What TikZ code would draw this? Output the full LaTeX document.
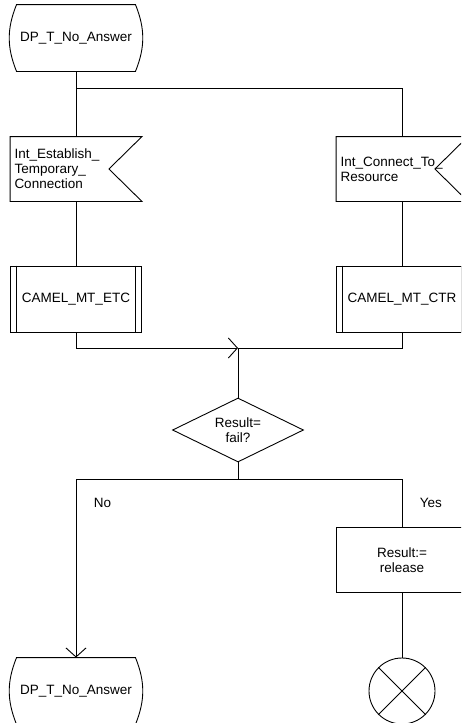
\documentclass[tikz,border=0pt]{standalone}
\usepackage{fontspec}
\setmainfont{Liberation Sans}
\usepackage{tikz}
\usetikzlibrary{shapes.geometric,arrows.meta,calc}

\begin{document}
\begin{tikzpicture}[x=1pt, y=1pt, line width=0.9pt,
    every node/.style={font=\fontsize{13.5}{15}\selectfont},
    term/.style={rectangle, minimum width=131pt, minimum height=66pt, inner sep=2pt},
    signal/.style={rectangle, minimum width=131pt, minimum height=64pt, inner sep=4pt, text width=123pt, align=left},
    proc/.style={rectangle, draw, minimum width=131pt, minimum height=66pt, inner sep=4pt, align=center},
    task/.style={rectangle, draw, minimum width=131pt, minimum height=65pt, inner sep=4pt, align=center},
    decision/.style={diamond, draw, minimum width=131pt, minimum height=64pt, inner sep=0pt, aspect=2, align=center},
    stopsym/.style={circle, draw, minimum size=66pt, inner sep=0pt},
    arr/.style={-{Straight Barb[length=9pt, width=20pt]}}]

    % Canvas
    \fill[white] (0,0) rectangle (461,-723);
    \clip (0,0) rectangle (461,-723);

    % Start
    \node[term] (dpTop) at (76,-38) {DP\_T\_No\_Answer};

    % Signals
    \node[signal] (estab) at (76,-169) {Int\_Establish\_\\Temporary\_\\Connection};
    \node[signal] (connect) at (402,-169) {Int\_Connect\_To\_\\Resource};

    % Procedures
    \node[proc] (etc) at (76,-299) {CAMEL\_MT\_ETC};
    \node[proc] (ctr) at (402,-299) {CAMEL\_MT\_CTR};

    % Decision
    \node[decision] (result) at (238,-430) {Result=\\fail?};

    % Branches
    \node[task] (release) at (402,-560) {Result:=\\release};
    \node[stopsym] (stop) at (402,-691) {};
    \node[term] (dpBot) at (76,-691) {DP\_T\_No\_Answer};
    \node[anchor=west] (no) at (90,-503) {No};
    \node[anchor=west] (yes) at (416,-503) {Yes};

    % Junctions
    \coordinate (fork) at (76,-88);
    \coordinate (merge) at (238,-348);
    \coordinate (split) at (238,-479);

    % Outlines
    \foreach \n in {dpTop,dpBot} {
        \draw ([xshift=6.5pt]\n.north west) to[bend right=22] ([xshift=6.5pt]\n.south west)
            -- ([xshift=-6.5pt]\n.south east) to[bend right=22] ([xshift=-6.5pt]\n.north east) -- cycle;
    }
    \foreach \n in {estab,connect} {
        \draw (\n.north west) -- (\n.north east) -- ([xshift=-33pt]\n.east)
            -- (\n.south east) -- (\n.south west) -- cycle;
    }
    \foreach \n in {etc,ctr} {
        \draw ([xshift=6.5pt]\n.north west) -- ([xshift=6.5pt]\n.south west);
        \draw ([xshift=-6.5pt]\n.north east) -- ([xshift=-6.5pt]\n.south east);
    }
    \draw (stop.north west) -- (stop.south east);
    \draw (stop.north east) -- (stop.south west);

    % Connections
    \draw (dpTop.south) -- (estab.north);
    \draw (fork) -| (connect.north);
    \draw (estab.south) -- (etc.north);
    \draw (connect.south) -- (ctr.north);
    \draw[arr] (etc.south) |- (merge);
    \draw (ctr.south) |- (merge);
    \draw (merge) -- (result.north);
    \draw (result.south) -- (split);
    \draw[arr] (split) -| (dpBot.north);
    \draw (split) -| (release.north);
    \draw (release.south) -- (stop.north);
\end{tikzpicture}
\end{document}
